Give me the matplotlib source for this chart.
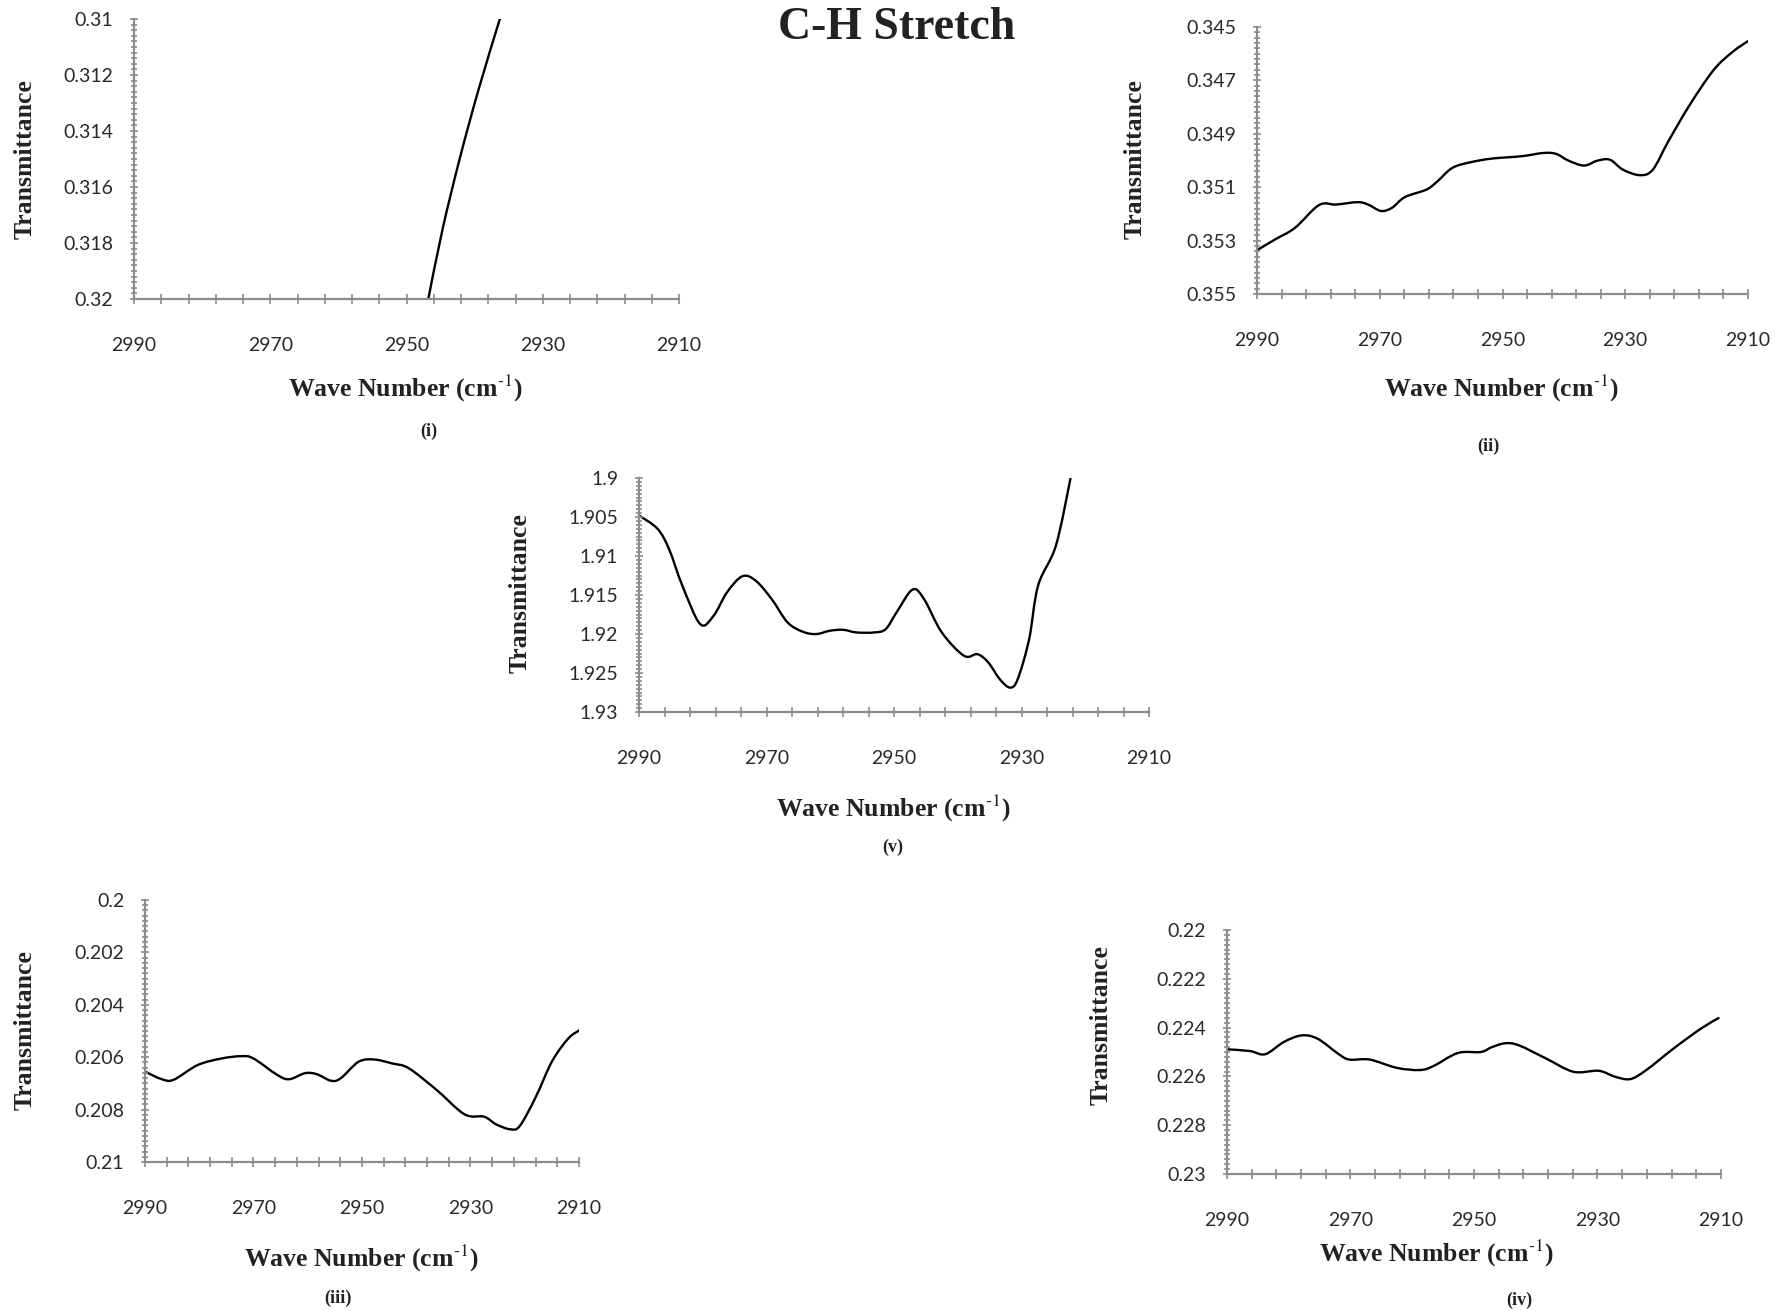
import matplotlib
matplotlib.use("Agg")
import matplotlib.pyplot as plt
from matplotlib.path import Path
from matplotlib.patches import PathPatch
from matplotlib.ticker import MultipleLocator, FixedLocator, FixedFormatter

plt.rcParams['mathtext.fontset'] = 'stix'

# C-H stretch region, five samples (wavenumber in cm-1, transmittance)
wn_i = [2946.8, 2944.7, 2942.2, 2939.4, 2936.3]
tr_i = [0.3200, 0.3175, 0.3150, 0.3125, 0.3100]

wn_ii = [2990.0, 2987.0, 2983.8, 2979.9, 2977.1, 2973.6, 2971.9, 2969.8, 2968.0,
         2965.9, 2962.4, 2960.6, 2958.2, 2955.3, 2951.8, 2946.9, 2943.4, 2941.3,
         2939.2, 2936.7, 2934.6, 2932.5, 2930.4, 2927.6, 2925.5, 2923.0, 2919.5,
         2915.6, 2912.5, 2910.0]
tr_ii = [0.35336, 0.35295, 0.35252, 0.35167, 0.35165, 0.35156, 0.35165, 0.35189, 0.35177,
         0.35137, 0.35109, 0.35078, 0.35028, 0.35007, 0.34993, 0.34984, 0.34972, 0.34975,
         0.35001, 0.35019, 0.35001, 0.34997, 0.35034, 0.35055, 0.35034, 0.34929, 0.34792,
         0.34661, 0.34593, 0.34553]

wn_iii = [2990.0, 2986.9, 2984.7, 2980.3, 2975.9, 2972.2, 2970.0, 2965.6, 2963.4,
          2960.5, 2958.3, 2955.7, 2953.9, 2950.6, 2947.7, 2944.4, 2941.4, 2936.3,
          2931.1, 2927.5, 2925.3, 2922.7, 2920.9, 2917.9, 2915.0, 2912.0, 2909.8]
tr_iii = [0.20655, 0.20684, 0.20686, 0.20630, 0.20605, 0.20596, 0.20605, 0.20668, 0.20684,
          0.20661, 0.20665, 0.20690, 0.20680, 0.20617, 0.20609, 0.20624, 0.20642, 0.20724,
          0.20818, 0.20827, 0.20856, 0.20875, 0.20862, 0.20749, 0.20617, 0.20529, 0.20496]

wn_iv = [2990.0, 2986.3, 2983.8, 2980.8, 2977.9, 2975.3, 2972.0, 2970.2, 2966.9,
         2962.5, 2958.8, 2956.6, 2952.6, 2948.9, 2947.1, 2944.9, 2942.7, 2938.3,
         2933.9, 2929.8, 2927.2, 2924.7, 2922.1, 2917.7, 2913.3, 2910.4]
tr_iv = [0.22489, 0.22496, 0.22509, 0.22459, 0.22432, 0.22446, 0.22507, 0.22531, 0.22531,
         0.22565, 0.22574, 0.22558, 0.22504, 0.22500, 0.22480, 0.22464, 0.22473, 0.22527,
         0.22581, 0.22577, 0.22601, 0.22611, 0.22574, 0.22486, 0.22405, 0.22361]

wn_v = [2990.0, 2987.1, 2985.3, 2983.2, 2980.4, 2978.3, 2976.2, 2973.8, 2971.7,
        2969.2, 2966.7, 2964.3, 2962.2, 2960.1, 2958.0, 2955.9, 2953.1, 2951.3,
        2949.6, 2947.1, 2945.3, 2942.5, 2939.0, 2936.9, 2935.2, 2933.4, 2931.8,
        2930.6, 2928.8, 2927.4, 2924.6, 2922.3]
tr_v = [1.9048, 1.90651, 1.90909, 1.9138, 1.91873, 1.91766, 1.91466, 1.9126, 1.91316,
        1.91551, 1.91851, 1.91971, 1.92001, 1.91959, 1.91946, 1.91980, 1.91980, 1.91937,
        1.91723, 1.91431, 1.91551, 1.91980, 1.9228, 1.92259, 1.92366, 1.9258, 1.92687,
        1.9258, 1.92066, 1.9138, 1.90866, 1.9000]

yticks_i = [0.31, 0.312, 0.314, 0.316, 0.318, 0.32]
yticks_ii = [0.345, 0.347, 0.349, 0.351, 0.353, 0.355]
yticks_iii = [0.2, 0.202, 0.204, 0.206, 0.208, 0.21]
yticks_iv = [0.22, 0.222, 0.224, 0.226, 0.228, 0.23]
yticks_v = [1.9, 1.905, 1.91, 1.915, 1.92, 1.925, 1.93]
xticks = [2990, 2970, 2950, 2930, 2910]

# panel: data, y ticks, axes rect, ylabel pos, xlabel pos, caption pos (pixels)
W, H = 1780, 1311
panels = [
    ('(i)', wn_i, tr_i, yticks_i, (134, 19, 679, 299), (25, 159), (405, 388), (429, 431)),
    ('(ii)', wn_ii, tr_ii, yticks_ii, (1257, 27, 1748, 294), (1135, 159), (1501, 388), (1488, 446)),
    ('(v)', wn_v, tr_v, yticks_v, (639, 478, 1149, 712), (520, 593), (893, 808), (893, 847)),
    ('(iii)', wn_iii, tr_iii, yticks_iii, (145, 900, 579, 1162), (25, 1030), (361, 1258), (338, 1298)),
    ('(iv)', wn_iv, tr_iv, yticks_iv, (1227, 930, 1721, 1174), (1101, 1025), (1436, 1253), (1519, 1300)),
]


def smooth_path(xs, ys):
    # spreadsheet-style smoothed line: cubic Bezier segments with
    # Catmull-Rom tangents through every point
    verts = [(xs[0], ys[0])]
    codes = [Path.MOVETO]
    n = len(xs)
    for k in range(n - 1):
        x0, y0 = (xs[k - 1], ys[k - 1]) if k > 0 else (xs[k], ys[k])
        x1, y1 = xs[k], ys[k]
        x2, y2 = xs[k + 1], ys[k + 1]
        x3, y3 = (xs[k + 2], ys[k + 2]) if k + 2 < n else (x2, y2)
        c1 = (x1 + (x2 - x0) / 6.0, y1 + (y2 - y0) / 6.0)
        c2 = (x2 - (x3 - x1) / 6.0, y2 - (y3 - y1) / 6.0)
        verts += [c1, c2, (x2, y2)]
        codes += [Path.CURVE4] * 3
    return Path(verts, codes)


fig = plt.figure(figsize=(W / 100, H / 100), dpi=100)
axis_grey = '#8c8c8c'
text_col = '#222222'

for cap, wn, tr, yt, (x0, y0, x1, y1), ylp, xlp, cp in panels:
    ax = fig.add_axes([x0 / W, 1 - y1 / H, (x1 - x0) / W, (y1 - y0) / H])
    ax.add_patch(PathPatch(smooth_path(wn, tr), facecolor='none', edgecolor='black',
                           linewidth=1.7, joinstyle='round', capstyle='round'))
    ax.set_xlim(2990, 2910)
    ax.set_ylim(yt[-1], yt[0])
    for side in ('top', 'right'):
        ax.spines[side].set_visible(False)
    for side in ('left', 'bottom'):
        ax.spines[side].set_color(axis_grey)
        ax.spines[side].set_linewidth(1.6)
    ax.xaxis.set_major_locator(FixedLocator(xticks))
    ax.xaxis.set_major_formatter(FixedFormatter([str(v) for v in xticks]))
    # small marks every 4 cm-1, counted from 2990
    ax.xaxis.set_minor_locator(MultipleLocator(4, offset=2))
    ax.yaxis.set_major_locator(FixedLocator(yt))
    ax.yaxis.set_major_formatter(FixedFormatter(['%g' % v for v in yt]))
    ax.yaxis.set_minor_locator(MultipleLocator((yt[1] - yt[0]) / 10))
    ax.tick_params(axis='both', which='both', direction='inout', color=axis_grey,
                   width=1.2, labelcolor='#2a2a2a')
    ax.tick_params(axis='x', which='both', length=7)
    ax.tick_params(axis='y', which='major', length=6)
    ax.tick_params(axis='y', which='minor', length=4)
    ax.tick_params(axis='x', which='major', pad=24)
    ax.tick_params(axis='y', which='major', pad=12)
    for lab in ax.get_xticklabels() + ax.get_yticklabels():
        lab.set_fontfamily('Lato')
        lab.set_fontsize(14)

    fig.text(ylp[0] / W, 1 - ylp[1] / H, 'Transmittance', rotation=90, ha='center', va='center',
             family='Liberation Serif', weight='bold', fontsize=18.5, color=text_col)
    fig.text(xlp[0] / W, 1 - xlp[1] / H, r'Wave Number (cm$^{\text{-1}}$)', ha='center', va='center',
             family='Liberation Serif', weight='bold', fontsize=18.5, color=text_col)
    fig.text(cp[0] / W, 1 - cp[1] / H, cap, ha='center', va='center',
             family='Liberation Serif', weight='bold', fontsize=13, color=text_col)

fig.text(897 / W, 1 - 28 / H, 'C-H Stretch', ha='center', va='center',
         family='Liberation Serif', weight='bold', fontsize=33, color=text_col)

fig.savefig('out.png', dpi=100, facecolor='white')
